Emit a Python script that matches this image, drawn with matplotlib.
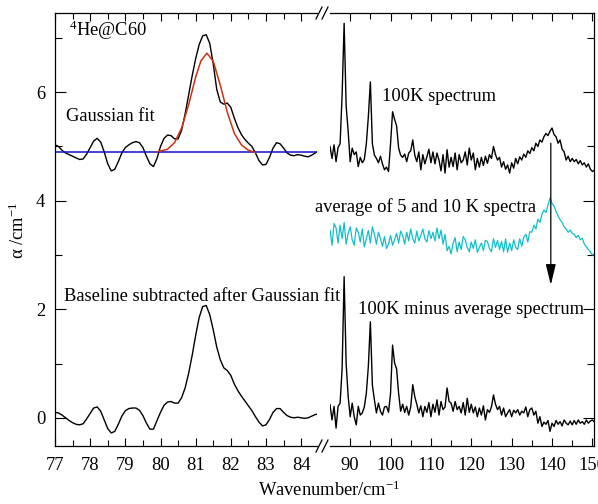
import numpy as np
import matplotlib
matplotlib.use("Agg")
import matplotlib.pyplot as plt
from matplotlib.lines import Line2D

plt.rcParams['font.family'] = ['Liberation Serif', 'DejaVu Serif']
plt.rcParams['mathtext.fontset'] = 'custom'
plt.rcParams['mathtext.rm'] = 'Liberation Serif'
plt.rcParams['mathtext.it'] = 'Liberation Serif:italic'

# ---- left panel (77 - 84.5 cm-1), sampled every 0.1 cm-1 ----
wn_left_start = 77.0
wn_left_step = 0.1

raw_left = [
    5.03, 5.00, 4.93, 4.88, 4.85, 4.82, 4.79, 4.76, 4.77, 4.86,
    4.98, 5.10, 5.15, 5.08, 4.90, 4.68, 4.55, 4.58, 4.72, 4.88,
    4.98, 5.03, 5.07, 5.09, 5.07, 4.98, 4.82, 4.68, 4.63, 4.78,
    5.00, 5.15, 5.21, 5.20, 5.14, 5.14, 5.30, 5.60, 5.95, 6.30,
    6.62, 6.88, 7.04, 7.06, 6.90, 6.52, 6.05, 5.82, 5.78, 5.80,
    5.72, 5.52, 5.35, 5.22, 5.13, 5.06, 5.00, 4.88, 4.74, 4.66,
    4.67, 4.80, 4.97, 5.07, 5.05, 4.97, 4.88, 4.84, 4.83, 4.85,
    4.84, 4.82, 4.81, 4.84, 4.88, 4.92,
]

subtracted_left = [
    0.10, 0.09, 0.05, 0.00, -0.05, -0.09, -0.12, -0.13, -0.11, -0.02,
    0.08, 0.18, 0.20, 0.12, -0.04, -0.20, -0.28, -0.25, -0.12, 0.03,
    0.13, 0.17, 0.18, 0.18, 0.14, 0.04, -0.10, -0.21, -0.21, -0.05,
    0.10, 0.23, 0.29, 0.30, 0.27, 0.27, 0.37, 0.55, 0.82, 1.15,
    1.52, 1.85, 2.05, 2.07, 1.90, 1.62, 1.30, 1.07, 0.92, 0.87,
    0.78, 0.62, 0.50, 0.40, 0.31, 0.22, 0.13, 0.02, -0.08, -0.15,
    -0.13, -0.03, 0.10, 0.17, 0.17, 0.10, 0.04, 0.01, 0.00, 0.01,
    0.00, -0.01, 0.00, 0.03, 0.06, 0.07,
]

# gaussian fit
fit_x = [79.9, 80.2, 80.4, 80.6, 80.8, 81.0, 81.15, 81.32, 81.5, 81.7,
         81.9, 82.1, 82.3, 82.5, 82.7]
fit_y = [4.90, 4.95, 5.07, 5.34, 5.77, 6.28, 6.58, 6.72, 6.57, 6.13,
         5.63, 5.24, 5.03, 4.93, 4.89]
baseline_x = [77.0, 84.45]
baseline_y = [4.89, 4.89]

# ---- right panel (85 - 150 cm-1), sampled every 0.5 cm-1 ----
wn_right_start = 85.0
wn_right_step = 0.5

spec_100k = [
    5.00, 4.78, 5.03, 4.72, 4.98, 5.05, 5.95, 7.27, 5.75, 5.28,
    4.72, 4.97, 4.85, 4.90, 4.63, 4.80, 4.70, 4.76, 5.05, 5.55,
    6.19, 5.05, 4.84, 4.78, 4.70, 4.82, 4.68, 4.57, 4.62, 4.54,
    5.05, 5.64, 5.50, 5.38, 4.97, 4.84, 4.80, 4.86, 4.72, 4.88,
    4.92, 5.12, 4.84, 4.72, 4.90, 4.57, 4.85, 4.68, 4.81, 4.95,
    4.70, 4.90, 4.68, 4.88, 4.75, 4.55, 4.85, 4.51, 4.94, 4.62,
    4.80, 4.63, 4.88, 4.57, 4.85, 4.70, 4.75, 4.90, 4.66, 4.97,
    4.75, 4.88, 4.57, 4.78, 4.62, 4.80, 4.65, 4.82, 4.69, 4.85,
    4.78, 5.00, 4.85, 4.75, 4.80, 4.62, 4.72, 4.58, 4.66, 4.51,
    4.70, 4.60, 4.78, 4.68, 4.81, 4.75, 4.86, 4.80, 4.92, 4.87,
    4.98, 4.92, 5.06, 5.00, 5.12, 5.08, 5.18, 5.24, 5.20, 5.28,
    5.34, 5.22, 5.18, 5.06, 5.12, 4.95, 4.90, 4.75, 4.82, 4.72,
    4.78, 4.72, 4.76, 4.68, 4.74, 4.66, 4.70, 4.62, 4.68, 4.58,
    4.54, 4.56,
]

spec_avg_low_t = [
    3.46, 3.18, 3.58, 3.50, 3.22, 3.55, 3.30, 3.60, 3.20, 3.40,
    3.52, 3.28, 3.18, 3.50, 3.42, 3.24, 3.48, 3.15, 3.30, 3.45,
    3.22, 3.52, 3.38, 3.20, 3.42, 3.30, 3.16, 3.34, 3.12, 3.20,
    3.36, 3.18, 3.28, 3.40, 3.22, 3.44, 3.36, 3.20, 3.42, 3.26,
    3.48, 3.30, 3.22, 3.44, 3.26, 3.36, 3.48, 3.30, 3.24, 3.45,
    3.30, 3.42, 3.26, 3.50, 3.30, 3.46, 3.20, 3.38, 3.08, 3.16,
    3.02, 3.22, 3.32, 3.06, 3.24, 3.10, 3.34, 3.28, 3.14, 3.06,
    3.24, 3.12, 3.28, 3.05, 3.14, 3.22, 3.08, 3.27, 3.25, 3.12,
    3.06, 3.30, 3.14, 3.27, 3.10, 3.25, 3.06, 3.30, 3.05, 3.22,
    3.08, 3.28, 3.14, 3.10, 3.30, 3.16, 3.33, 3.38, 3.24, 3.43,
    3.42, 3.55, 3.48, 3.66, 3.60, 3.75, 3.83, 3.78, 3.92, 4.05,
    3.95, 3.90, 3.80, 3.72, 3.65, 3.60, 3.52, 3.48, 3.42, 3.46,
    3.40, 3.38, 3.32, 3.36, 3.28, 3.31, 3.20, 3.15, 3.10, 3.06,
    3.00, 3.02,
]

spec_difference = [
    0.24, -0.04, 0.21, -0.19, 0.21, 0.27, 0.90, 2.60, 1.00, 0.39,
    0.02, 0.27, 0.02, -0.13, 0.21, 0.05, 0.09, 0.20, 0.45, 0.95,
    1.77, 0.60, 0.33, 0.09, 0.27, 0.12, 0.05, 0.20, 0.21, 0.10,
    0.45, 1.34, 1.01, 0.90, 0.45, 0.12, 0.25, 0.10, 0.21, 0.05,
    0.20, 0.61, 0.39, 0.25, 0.09, 0.22, 0.02, 0.21, 0.10, 0.28,
    0.02, 0.25, 0.10, 0.33, 0.05, 0.30, 0.15, 0.20, 0.55, 0.30,
    0.27, 0.12, 0.30, 0.15, 0.21, 0.09, 0.28, 0.05, 0.36, 0.10,
    0.25, 0.09, 0.20, 0.02, 0.18, 0.05, 0.22, -0.04, 0.15, 0.10,
    0.20, 0.42, 0.25, 0.15, 0.21, 0.05, 0.18, 0.02, 0.09, 0.15,
    0.02, 0.14, 0.09, 0.15, 0.05, 0.12, 0.09, 0.20, 0.02, 0.15,
    0.18, 0.05, 0.12, -0.10, 0.02, -0.16, -0.08, -0.12, -0.05, -0.25,
    -0.10, -0.16, -0.05, -0.12, -0.07, -0.15, -0.04, -0.10, -0.13, -0.06,
    -0.13, -0.05, -0.12, -0.04, -0.10, -0.07, -0.12, -0.04, -0.10, -0.06,
    -0.04, -0.08,
]

arrow_x = 139.7
arrow_from = 5.06
arrow_to = 2.45

left_ticks = [77, 78, 79, 80, 81, 82, 83, 84]
right_ticks = [90, 100, 110, 120, 130, 140, 150]
y_ticks = [0, 2, 4, 6]

W, H = 598, 504
FS = 13.3


def px_rect(x0, y0, x1, y1):
    # pixel box (top-left origin) -> figure fraction
    return [x0 / W, 1 - y1 / H, (x1 - x0) / W, (y1 - y0) / H]


wn_left = wn_left_start + wn_left_step * np.arange(len(raw_left))
wn_right = wn_right_start + wn_right_step * np.arange(len(spec_100k))

fig = plt.figure(figsize=(W / 100, H / 100), dpi=100)
ax1 = fig.add_axes(px_rect(55, 13, 317, 446))
ax2 = fig.add_axes(px_rect(330, 13, 594, 446))

ylim = (-0.52, 7.46)

# left panel
ax1.plot(wn_left, raw_left, color='black', lw=1.0)
ax1.plot(baseline_x, baseline_y, color='#1010c8', lw=1.1)
ax1.plot(fit_x, fit_y, color='#d03010', lw=1.1)
ax1.plot(wn_left, subtracted_left, color='black', lw=1.0)
ax1.set_xlim(77, 84.45)
ax1.set_ylim(*ylim)
ax1.set_xticks(left_ticks)
ax1.set_xticks(np.arange(77.5, 84.5, 1.0), minor=True)
ax1.set_yticks(y_ticks)
ax1.set_yticks([1, 3, 5, 7], minor=True)
ax1.spines['right'].set_visible(False)
ax1.tick_params(which='both', direction='in', top=True, right=False,
                labelsize=FS, width=0.8, color='black')
ax1.tick_params(axis='x', which='major', length=6, pad=8)
ax1.tick_params(axis='x', which='minor', length=4)
ax1.tick_params(axis='y', which='major', length=8, pad=7)
ax1.tick_params(axis='y', which='minor', length=5)

# right panel
ax2.plot(wn_right, spec_100k, color='black', lw=1.0)
ax2.plot(wn_right, spec_avg_low_t, color='#10c0c8', lw=0.9)
ax2.plot(wn_right, spec_difference, color='black', lw=1.0)
ax2.annotate('', xy=(arrow_x, arrow_to), xytext=(arrow_x, arrow_from),
             arrowprops=dict(arrowstyle='-|>,head_length=0.9,head_width=0.22',
                             color='black', lw=0.9, shrinkA=0, shrinkB=0,
                             mutation_scale=14))
ax2.set_xlim(85.0, 150.4)
ax2.set_ylim(*ylim)
ax2.set_xticks(right_ticks)
ax2.set_xticks(np.arange(95, 150, 10), minor=True)
ax2.set_yticks(y_ticks)
ax2.set_yticks([1, 3, 5, 7], minor=True)
ax2.spines['left'].set_visible(False)
ax2.tick_params(which='both', direction='in', top=True, left=False, right=True,
                labelleft=False, labelsize=FS, width=0.8, color='black')
ax2.tick_params(axis='x', which='major', length=6, pad=8)
ax2.tick_params(axis='x', which='minor', length=4)
ax2.tick_params(axis='y', which='major', length=8)
ax2.tick_params(axis='y', which='minor', length=5)

for ax in (ax1, ax2):
    for s in ax.spines.values():
        s.set_linewidth(0.9)

# break marks on top and bottom spines
for yb in (13, 446):
    for xb in (316, 322):
        fig.add_artist(Line2D([xb / W, (xb + 6) / W],
                              [1 - (yb + 6) / H, 1 - (yb - 6) / H],
                              color='black', lw=0.9, transform=fig.transFigure))


def label(x, y, s, **kw):
    fig.text(x / W, 1 - y / H, s, fontsize=FS, va='baseline', ha='left', **kw)


label(69, 36, r'$^{4}$He@C60')
label(66, 121, 'Gaussian fit')
label(382, 101, '100K spectrum')
label(315, 212, 'average of 5 and 10 K spectra')
label(64, 301, 'Baseline subtracted after Gaussian fit')
label(358, 314, '100K minus average spectrum')

fig.text(329 / W, 1 - 490 / H, r'Wavenumber/cm$^{-1}$', fontsize=FS,
         ha='center', va='center')
fig.text(18 / W, 1 - 230 / H, r'α /cm$^{-1}$', fontsize=FS,
         ha='center', va='center', rotation=90)

fig.savefig('out.png', dpi=100)
